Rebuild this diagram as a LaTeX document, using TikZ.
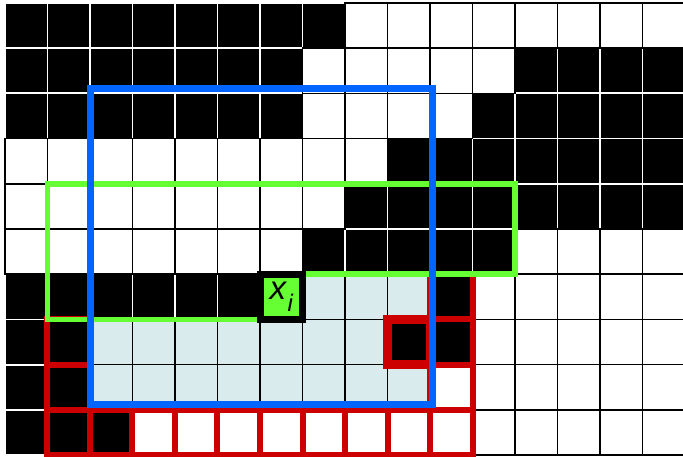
\documentclass[tikz,border=0pt]{standalone}
\usepackage{fontspec}
\setsansfont{Liberation Sans}
\definecolor{ctxblue}{HTML}{0066FF}
\definecolor{ctxgreen}{HTML}{66FF33}
\definecolor{ctxred}{HTML}{CC0000}
\definecolor{ctxpale}{HTML}{DAEBEE}

\begin{document}
\begin{tikzpicture}[
  x=42.5pt, y=-45.2pt,
  blackcell/.style={fill=black, draw=white, line width=1.8pt},
  whitecell/.style={fill=white, draw=black, line width=1.5pt},
  palecell/.style={fill=ctxpale, draw=black, line width=1.5pt},
  redcell/.style={draw=ctxred, line width=6pt},
  window/.style={draw=ctxblue, line width=7pt},
  context/.style={draw=ctxgreen, line width=5.5pt},
  current/.style={fill=ctxgreen, draw=black, line width=7pt, inner sep=0pt,
    minimum width=42.5pt, minimum height=45.2pt}
]

  \useasboundingbox (-0.1176,-0.0664) rectangle (15.953,10.044);

  % --- Pixels: 0 white, 1 black, 2 not yet coded, 3 current ---
  \def\pixels{%
    {1,1,1,1,1,1,1,1,0,0,0,0,0,0,0,0},%
    {1,1,1,1,1,1,1,0,0,0,0,0,1,1,1,1},%
    {1,1,1,1,1,1,1,0,0,0,0,1,1,1,1,1},%
    {0,0,0,0,0,0,0,0,0,1,1,1,1,1,1,1},%
    {0,0,0,0,0,0,0,0,1,1,1,1,1,1,1,1},%
    {0,0,0,0,0,0,0,1,1,1,1,1,0,0,0,0},%
    {1,1,1,1,1,1,3,2,2,2,1,0,0,0,0,0},%
    {1,1,2,2,2,2,2,2,2,1,1,0,0,0,0,0},%
    {1,1,2,2,2,2,2,2,2,2,0,0,0,0,0,0},%
    {1,1,1,0,0,0,0,0,0,0,0,0,0,0,0,0}}

  % black pixels first, white lines between them
  \foreach \cells [count=\r from 0] in \pixels {
    \foreach \v [count=\c from 0] in \cells {
      \ifnum\v=1 \draw[blackcell] (\c,\r) rectangle ++(1,1); \fi
    }
  }

  % white and pale pixels on top, black lines
  \foreach \cells [count=\r from 0] in \pixels {
    \foreach \v [count=\c from 0] in \cells {
      \ifnum\v=0 \draw[whitecell] (\c,\r) rectangle ++(1,1); \fi
      \ifnum\v=2 \draw[palecell] (\c,\r) rectangle ++(1,1); \fi
    }
  }

  % --- Red cells ---
  \foreach \c/\r in {1/7,1/8,1/9,2/9,3/9,4/9,5/9,6/9,7/9,8/9,9/9,10/9,10/6,10/7,10/8}
    \draw[redcell] (\c,\r) rectangle ++(1,1);
  \draw[redcell, line width=9pt] (9,7) rectangle ++(1,1);

  % --- Context ---
  \draw[context] (1,4) -- (12,4) -- (12,6) -- (6,6) -- (6,7) -- (1,7) -- cycle;

  % --- Window ---
  \draw[window] (2.02,1.9) rectangle (10.05,8.89);

  % --- Current pixel ---
  \node[current, font=\sffamily\itshape\fontsize{33}{33}\selectfont] (xi) at (6.5,6.5)
    {x\kern1.5pt\raisebox{-12pt}{\fontsize{24}{24}\selectfont i}};

\end{tikzpicture}
\end{document}
